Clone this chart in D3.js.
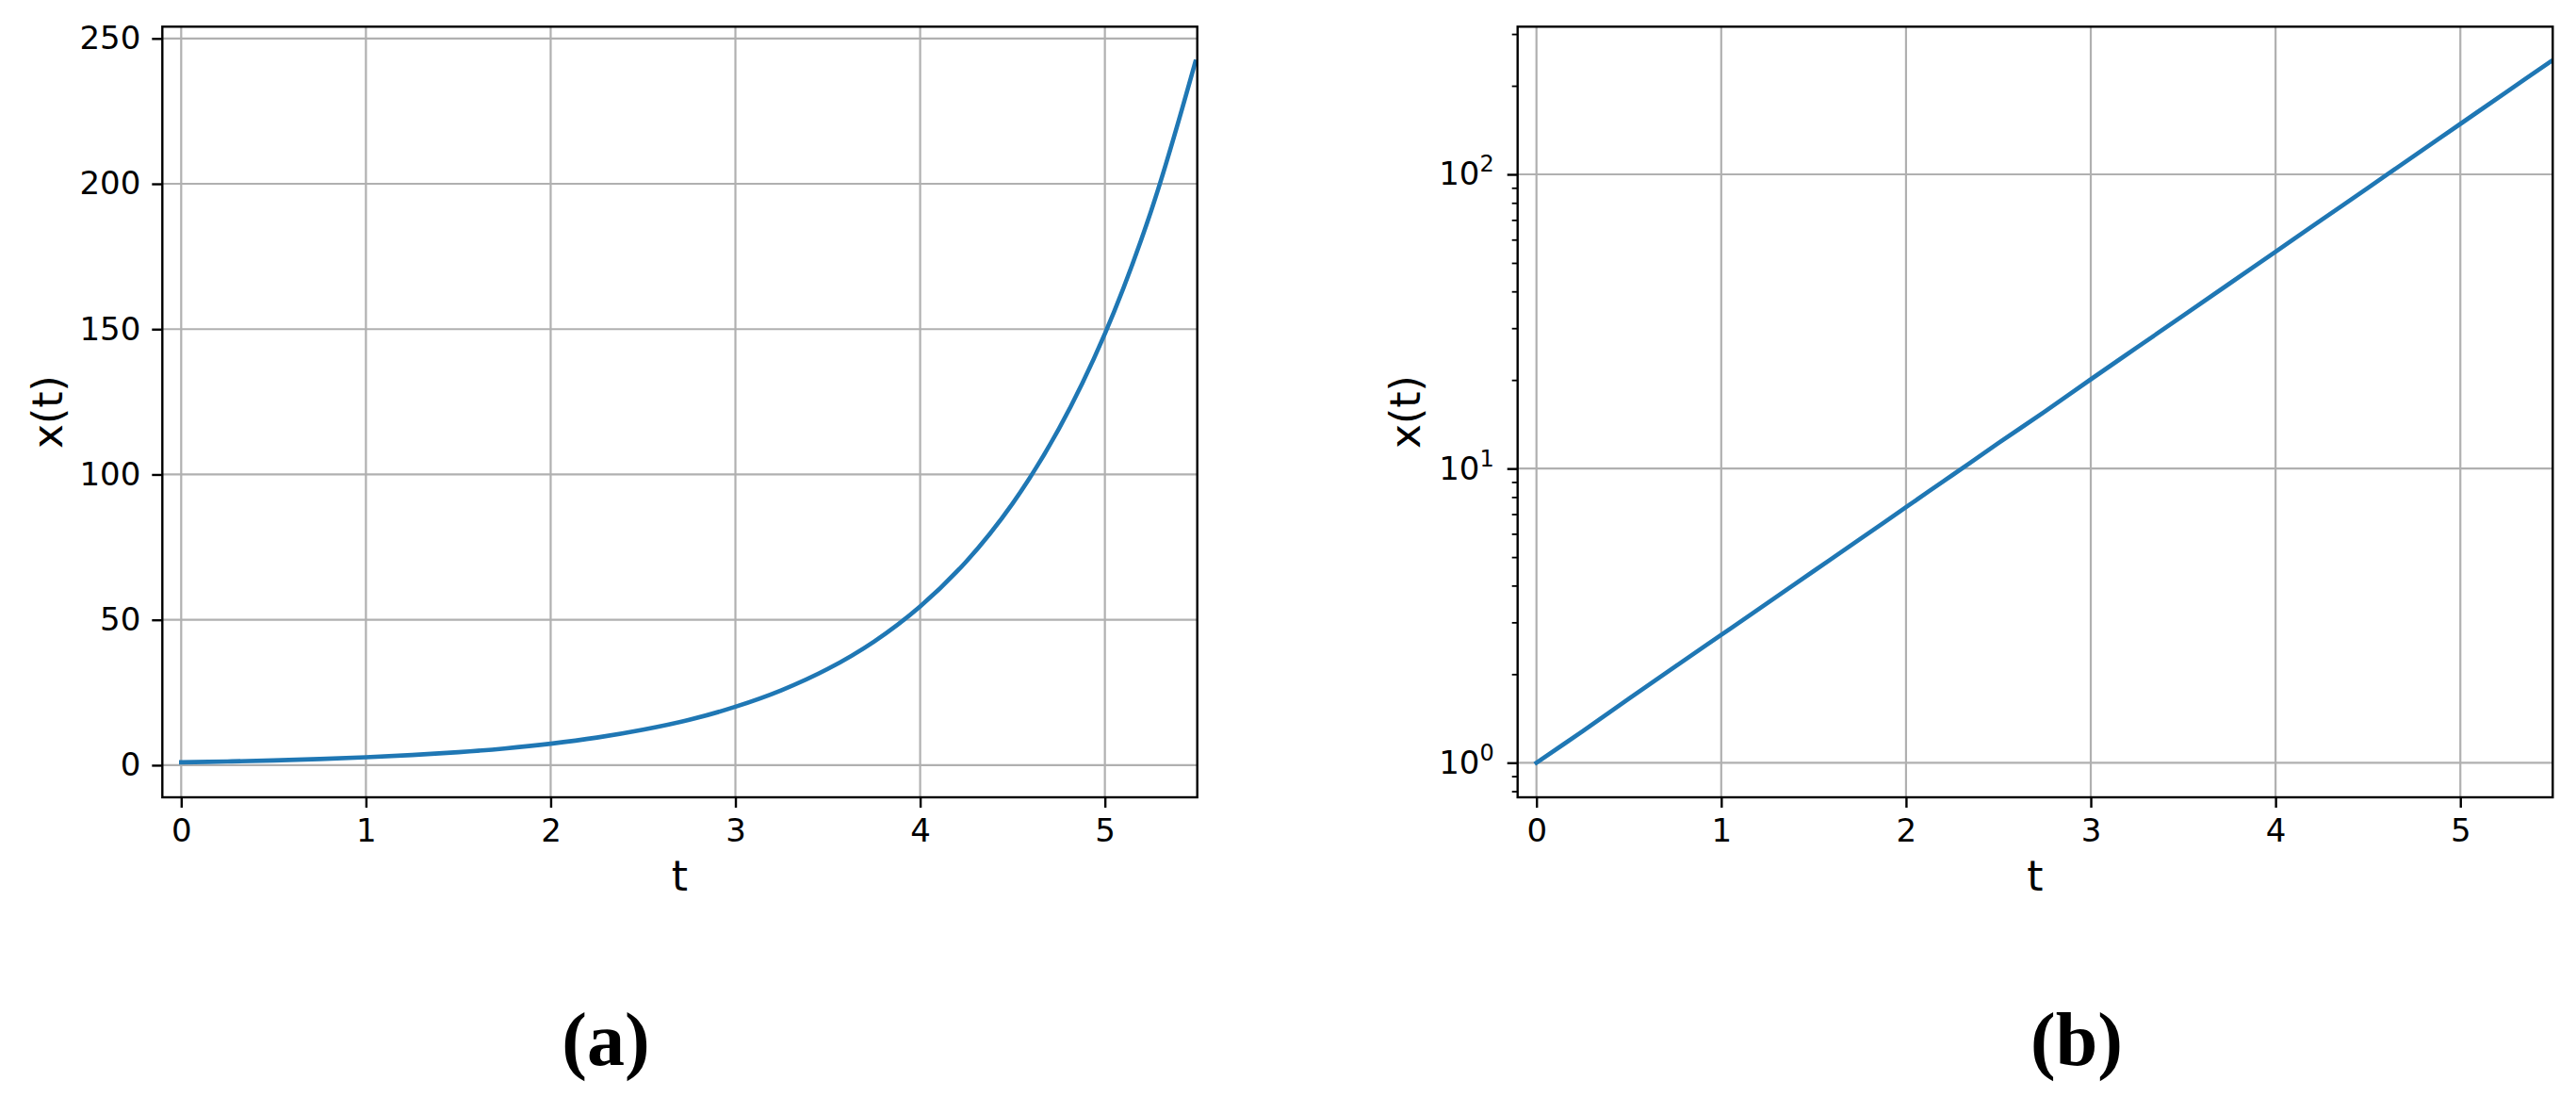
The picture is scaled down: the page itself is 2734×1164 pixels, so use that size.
<!DOCTYPE html>
<html>
<head>
<meta charset="utf-8">
<script src="https://cdn.jsdelivr.net/npm/d3@7"></script>
<style>
    body { margin: 0; background: #ffffff; }
    svg { display: block; }
</style>
</head>
<body>
<div id="visualization"></div>
<script>
const tValues = [0, 0.25, 0.5, 0.75, 1, 1.25, 1.5, 1.75, 2, 2.25, 2.5, 2.75,
    3, 3.25, 3.5, 3.75, 4, 4.25, 4.5, 4.75, 5, 5.25, 5.49];
const xValues = [1.00, 1.28, 1.65, 2.12, 2.72, 3.49, 4.48, 5.75, 7.39, 9.49, 12.2, 15.6,
    20.1, 25.8, 33.1, 42.5, 54.6, 70.1, 90.0, 115.6, 148.4, 190.6, 242.0];

const tTicks = [0, 1, 2, 3, 4, 5];
const linearTicks = [0, 50, 100, 150, 200, 250];
const logMajorTicks = [1, 10, 100];
const logMinorTicks = [0.8, 0.9, 2, 3, 4, 5, 6, 7, 8, 9,
    20, 30, 40, 50, 60, 70, 80, 90, 200, 300];
const tLimits = [-0.102, 5.5];
const linearLimits = [-11.05, 254.05];
const logLimits = [Math.pow(10, -0.1176), Math.pow(10, 2.502)];

const config = {
    width: 2734,
    height: 1164,
    top: 28.3,
    bottom: 846,
    lineColor: '#1f77b4',
    gridColor: '#b0b0b0',
    tickFont: '34px "DejaVu Sans"',
    labelFont: '44px "DejaVu Sans"'
};

const panels = [
    { id: 'a', left: 172.3, right: 1270.7, log: false, ylabelX: 65.7, captionX: 643 },
    { id: 'b', left: 1610.7, right: 2709.3, log: true, ylabelX: 1507.4, captionX: 2204 }
];

const data = tValues.map((t, i) => ({ t: t, x: xValues[i] }));

const svg = d3.select('#visualization').append('svg')
    .attr('width', config.width)
    .attr('height', config.height)
    .style('background', '#ffffff');

const styleAxis = (g, width) => {
    g.select('.domain').remove();
    g.selectAll('.tick line')
        .attr('stroke', '#000')
        .attr('stroke-width', width);
    g.selectAll('.tick text')
        .attr('fill', '#000')
        .style('font', config.tickFont);
    return g;
};

const drawPanel = panel => {
    const x = d3.scaleLinear()
        .domain(tLimits)
        .range([panel.left, panel.right]);
    const y = (panel.log ? d3.scaleLog().domain(logLimits) : d3.scaleLinear().domain(linearLimits))
        .range([config.bottom, config.top]);
    const yTicks = panel.log ? logMajorTicks : linearTicks;

    const g = svg.append('g').attr('id', 'panel-' + panel.id);

    g.append('clipPath')
            .attr('id', 'clip-' + panel.id)
        .append('rect')
            .attr('x', panel.left)
            .attr('y', config.top)
            .attr('width', panel.right - panel.left)
            .attr('height', config.bottom - config.top);

    // grid
    g.append('g').selectAll('line')
            .data(tTicks)
        .enter().append('line')
            .attr('x1', d => x(d))
            .attr('x2', d => x(d))
            .attr('y1', config.top)
            .attr('y2', config.bottom)
            .attr('stroke', config.gridColor)
            .attr('stroke-width', 2.2);
    g.append('g').selectAll('line')
            .data(yTicks)
        .enter().append('line')
            .attr('x1', panel.left)
            .attr('x2', panel.right)
            .attr('y1', d => y(d))
            .attr('y2', d => y(d))
            .attr('stroke', config.gridColor)
            .attr('stroke-width', 2.2);

    // the curve
    const line = d3.line()
        .x(d => x(d.t))
        .y(d => y(d.x))
        .curve(d3.curveCatmullRom);
    g.append('path')
        .datum(data)
        .attr('clip-path', 'url(#clip-' + panel.id + ')')
        .attr('fill', 'none')
        .attr('stroke', config.lineColor)
        .attr('stroke-width', 4.6)
        .attr('stroke-linecap', 'square')
        .attr('d', line);

    // x axis
    g.append('g')
            .attr('transform', 'translate(0,' + config.bottom + ')')
            .call(d3.axisBottom(x).tickValues(tTicks).tickSize(11).tickPadding(12)
                .tickFormat(d3.format('d')))
            .call(a => styleAxis(a, 2.4));

    // y axis
    if (panel.log) {
        g.append('g')
                .attr('transform', 'translate(' + panel.left + ',0)')
                .call(d3.axisLeft(y).tickValues(logMinorTicks).tickSize(6).tickFormat(''))
                .call(a => styleAxis(a, 1.8));
        const yAxis = g.append('g')
                .attr('transform', 'translate(' + panel.left + ',0)')
                .call(d3.axisLeft(y).tickValues(logMajorTicks).tickSize(11).tickPadding(14)
                    .tickFormat(''))
                .call(a => styleAxis(a, 2.4));
        yAxis.selectAll('.tick text').each(function(d) {
            const text = d3.select(this);
            text.append('tspan').text('10');
            text.append('tspan')
                .attr('dy', -14)
                .style('font-size', '24px')
                .text(Math.round(Math.log10(d)));
        });
    } else {
        g.append('g')
                .attr('transform', 'translate(' + panel.left + ',0)')
                .call(d3.axisLeft(y).tickValues(linearTicks).tickSize(11).tickPadding(12)
                    .tickFormat(d3.format('d')))
                .call(a => styleAxis(a, 2.4));
    }

    // spines
    g.append('rect')
        .attr('x', panel.left)
        .attr('y', config.top)
        .attr('width', panel.right - panel.left)
        .attr('height', config.bottom - config.top)
        .attr('fill', 'none')
        .attr('stroke', '#000')
        .attr('stroke-width', 2.4);

    // axis labels
    g.append('text')
        .attr('x', (panel.left + panel.right) / 2)
        .attr('y', 945)
        .attr('text-anchor', 'middle')
        .style('font', config.labelFont)
        .text('t');
    g.append('text')
        .attr('transform', 'translate(' + panel.ylabelX + ',' + (config.top + config.bottom) / 2 + ') rotate(-90)')
        .attr('text-anchor', 'middle')
        .style('font', config.labelFont)
        .text('x(t)');

    // subfigure caption
    g.append('text')
        .attr('x', panel.captionX)
        .attr('y', 1130)
        .attr('text-anchor', 'middle')
        .style('font', 'bold 80px "Liberation Serif"')
        .text('(' + panel.id + ')');
};

panels.forEach(drawPanel);
</script>
</body>
</html>
